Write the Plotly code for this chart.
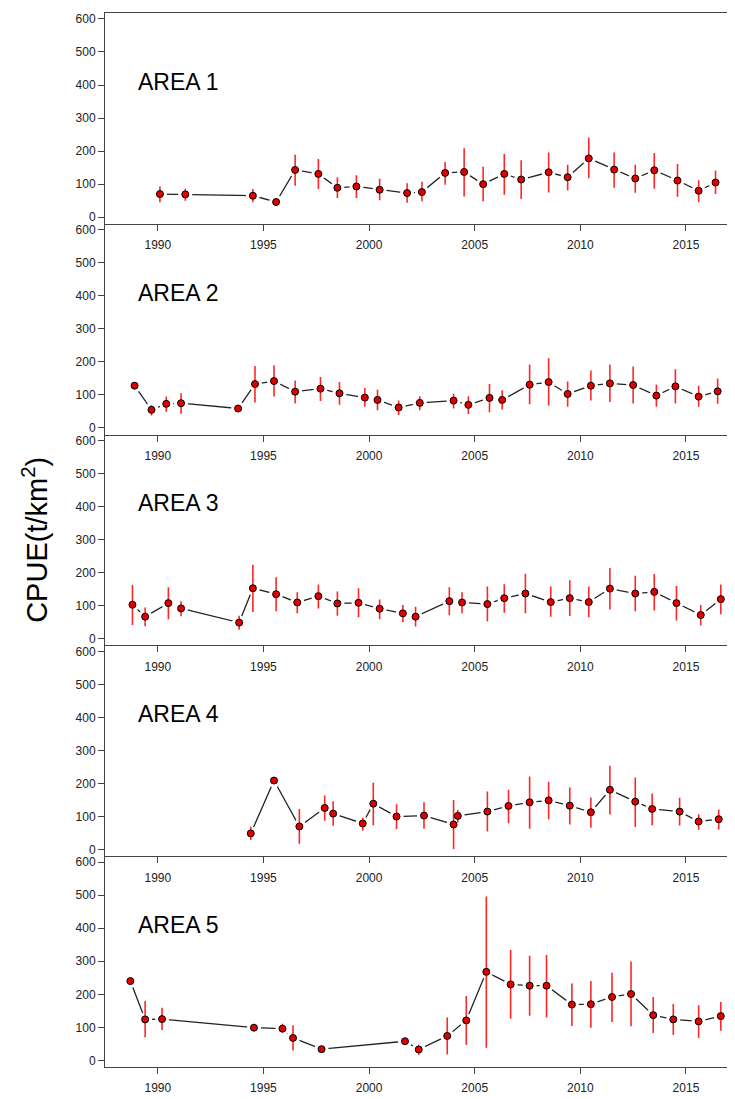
import plotly.graph_objects as go

# ---- data (year, CPUE, upper, lower) ----
a1_year = [1990.1,1991.3,1994.5,1995.6,1996.5,1997.6,1998.5,1999.4,2000.5,2001.8,2002.5,2003.6,2004.5,2005.4,2006.4,2007.2,2008.5,2009.4,2010.4,2011.6,2012.6,2013.5,2014.6,2015.6,2016.4]
a1_val  = [70,69,65,46,143,131,89,93,83,73,76,134,137,100,131,114,136,121,178,144,117,142,111,80,105]
a1_hi   = [93,86,85,46,189,176,121,127,116,103,107,167,209,153,191,172,196,159,241,196,159,194,161,112,141]
a1_lo   = [45,50,45,46,95,85,58,58,51,44,48,98,63,48,68,55,75,81,118,89,74,86,62,45,70]

a2_year = [1988.9,1989.7,1990.4,1991.1,1993.8,1994.6,1995.5,1996.5,1997.7,1998.6,1999.8,2000.4,2001.4,2002.4,2004.0,2004.7,2005.7,2006.3,2007.6,2008.5,2009.4,2010.5,2011.4,2012.5,2013.6,2014.5,2015.6,2016.5]
a2_val  = [128,55,73,75,59,133,142,110,119,105,92,85,62,76,83,70,91,85,131,139,103,128,135,130,98,126,95,111]
a2_hi   = [128,69,95,105,59,188,190,144,154,139,121,116,83,96,104,96,133,114,192,211,141,174,192,186,132,178,128,150]
a2_lo   = [128,38,49,43,59,77,95,74,82,70,64,54,39,54,59,42,48,56,72,68,64,83,79,74,64,74,64,73]

a3_year = [1988.8,1989.4,1990.5,1991.1,1993.85,1994.5,1995.6,1996.6,1997.6,1998.5,1999.5,2000.5,2001.6,2002.2,2003.8,2004.4,2005.6,2006.4,2007.4,2008.6,2009.5,2010.4,2011.4,2012.6,2013.5,2014.55,2015.7,2016.65]
a3_val  = [103,67,108,92,49,153,135,110,129,107,109,91,77,67,114,110,105,123,137,111,123,111,152,137,142,108,72,120]
a3_hi   = [163,95,156,114,70,224,186,141,164,143,153,119,102,97,156,141,158,165,197,158,177,158,214,191,196,160,102,164]
a3_lo   = [42,38,59,68,27,81,83,77,92,70,65,59,50,37,71,77,53,79,77,67,69,65,89,83,86,55,40,74]

a4_year = [1994.4,1995.5,1996.7,1997.9,1998.3,1999.7,2000.2,2001.3,2002.6,2004.0,2004.2,2005.6,2006.6,2007.6,2008.5,2009.5,2010.5,2011.4,2012.6,2013.4,2014.7,2015.6,2016.55]
a4_val  = [49,209,70,126,109,79,139,100,103,76,102,115,132,143,149,133,113,181,145,123,115,85,92]
a4_hi   = [69,209,123,164,146,96,202,137,143,150,120,176,181,221,205,188,158,254,218,170,157,107,121]
a4_lo   = [29,209,18,87,72,57,74,62,63,2,82,55,80,63,92,76,66,106,68,74,73,60,61]

a5_year = [1988.7,1989.4,1990.2,1994.55,1995.9,1996.4,1997.75,2001.7,2002.35,2003.7,2004.6,2005.55,2006.7,2007.6,2008.4,2009.6,2010.5,2011.5,2012.4,2013.45,2014.4,2015.6,2016.65]
a5_val  = [240,124,125,99,96,68,34,58,33,74,121,268,230,226,226,169,170,192,201,137,124,118,134]
a5_hi   = [240,180,159,99,111,106,34,58,47,130,195,496,334,317,319,233,240,265,299,192,171,167,177]
a5_lo   = [240,70,92,99,85,30,34,58,17,18,47,38,126,135,130,104,99,116,103,83,77,68,90]

areas = [
    ("AREA 1", a1_year, a1_val, a1_hi, a1_lo),
    ("AREA 2", a2_year, a2_val, a2_hi, a2_lo),
    ("AREA 3", a3_year, a3_val, a3_hi, a3_lo),
    ("AREA 4", a4_year, a4_val, a4_hi, a4_lo),
    ("AREA 5", a5_year, a5_val, a5_hi, a5_lo),
]
x_ticks = [1990, 1995, 2000, 2005, 2010, 2015]
y_ticks = [0, 100, 200, 300, 400, 500, 600]

W, H = 735, 1099
mt, mb, ml = 5, 40, 97
fig = go.Figure()
n = len(areas)
ph = 1.0 / n
font = dict(family="Liberation Sans, Arial", size=12, color="#222")

for i, (name, yr, v, hi, lo) in enumerate(areas):
    k = i + 1
    xa = "x" if k == 1 else f"x{k}"
    ya = "y" if k == 1 else f"y{k}"
    fig.add_trace(go.Scatter(x=yr, y=v, mode="lines", line=dict(color="#222", width=1.3),
                             xaxis=xa, yaxis=ya, showlegend=False, hoverinfo="skip"))
    fig.add_trace(go.Scatter(x=yr, y=v, mode="markers", marker=dict(color="white", size=14),
                             xaxis=xa, yaxis=ya, showlegend=False, hoverinfo="skip"))
    fig.add_trace(go.Scatter(
        x=yr, y=v, mode="markers",
        marker=dict(color="#e00000", size=7, line=dict(color="black", width=1)),
        error_y=dict(type="data", symmetric=False,
                     array=[h - a for h, a in zip(hi, v)],
                     arrayminus=[a - l for a, l in zip(v, lo)],
                     color="rgba(255,0,0,0.85)", thickness=1.6, width=0),
        xaxis=xa, yaxis=ya, showlegend=False))
    top = 1 - i * ph
    bot = 1 - (i + 1) * ph
    fig.layout[f"xaxis{'' if k==1 else k}"] = dict(
        domain=[0, 1], anchor=ya, range=[1987.5, 2017.7],
        tickvals=x_ticks, ticks="outside", ticklen=6, tickcolor="#444",
        ticklabelstandoff=4,
        showline=True, linecolor="#444", linewidth=1, mirror=(k == 1),
        showgrid=False, zeroline=False, tickfont=font)
    fig.layout[f"yaxis{'' if k==1 else k}"] = dict(
        domain=[bot, top], anchor=xa, range=[-20, 618],
        tickvals=y_ticks, ticks="outside", ticklen=6, tickcolor="#444",
        showline=True, linecolor="#444", linewidth=1,
        showgrid=False, zeroline=False, tickfont=font)
    fig.add_annotation(text=name, xref=f"{xa} domain", yref=ya, x=0.049, y=410,
                       xanchor="left", yanchor="middle", showarrow=False,
                       font=dict(family="Liberation Sans, Arial", size=23, color="black"))

fig.add_annotation(text="CPUE(t/km<sup>2</sup>)", xref="paper", yref="paper", x=-0.11, y=0.5,
                   textangle=-90, showarrow=False, xanchor="center", yanchor="middle",
                   font=dict(family="Liberation Sans, Arial", size=29, color="black"))

fig.update_layout(width=W, height=H, margin=dict(l=ml, r=0, t=mt, b=mb),
                  plot_bgcolor="white", paper_bgcolor="white")
fig.write_html("out.html")
